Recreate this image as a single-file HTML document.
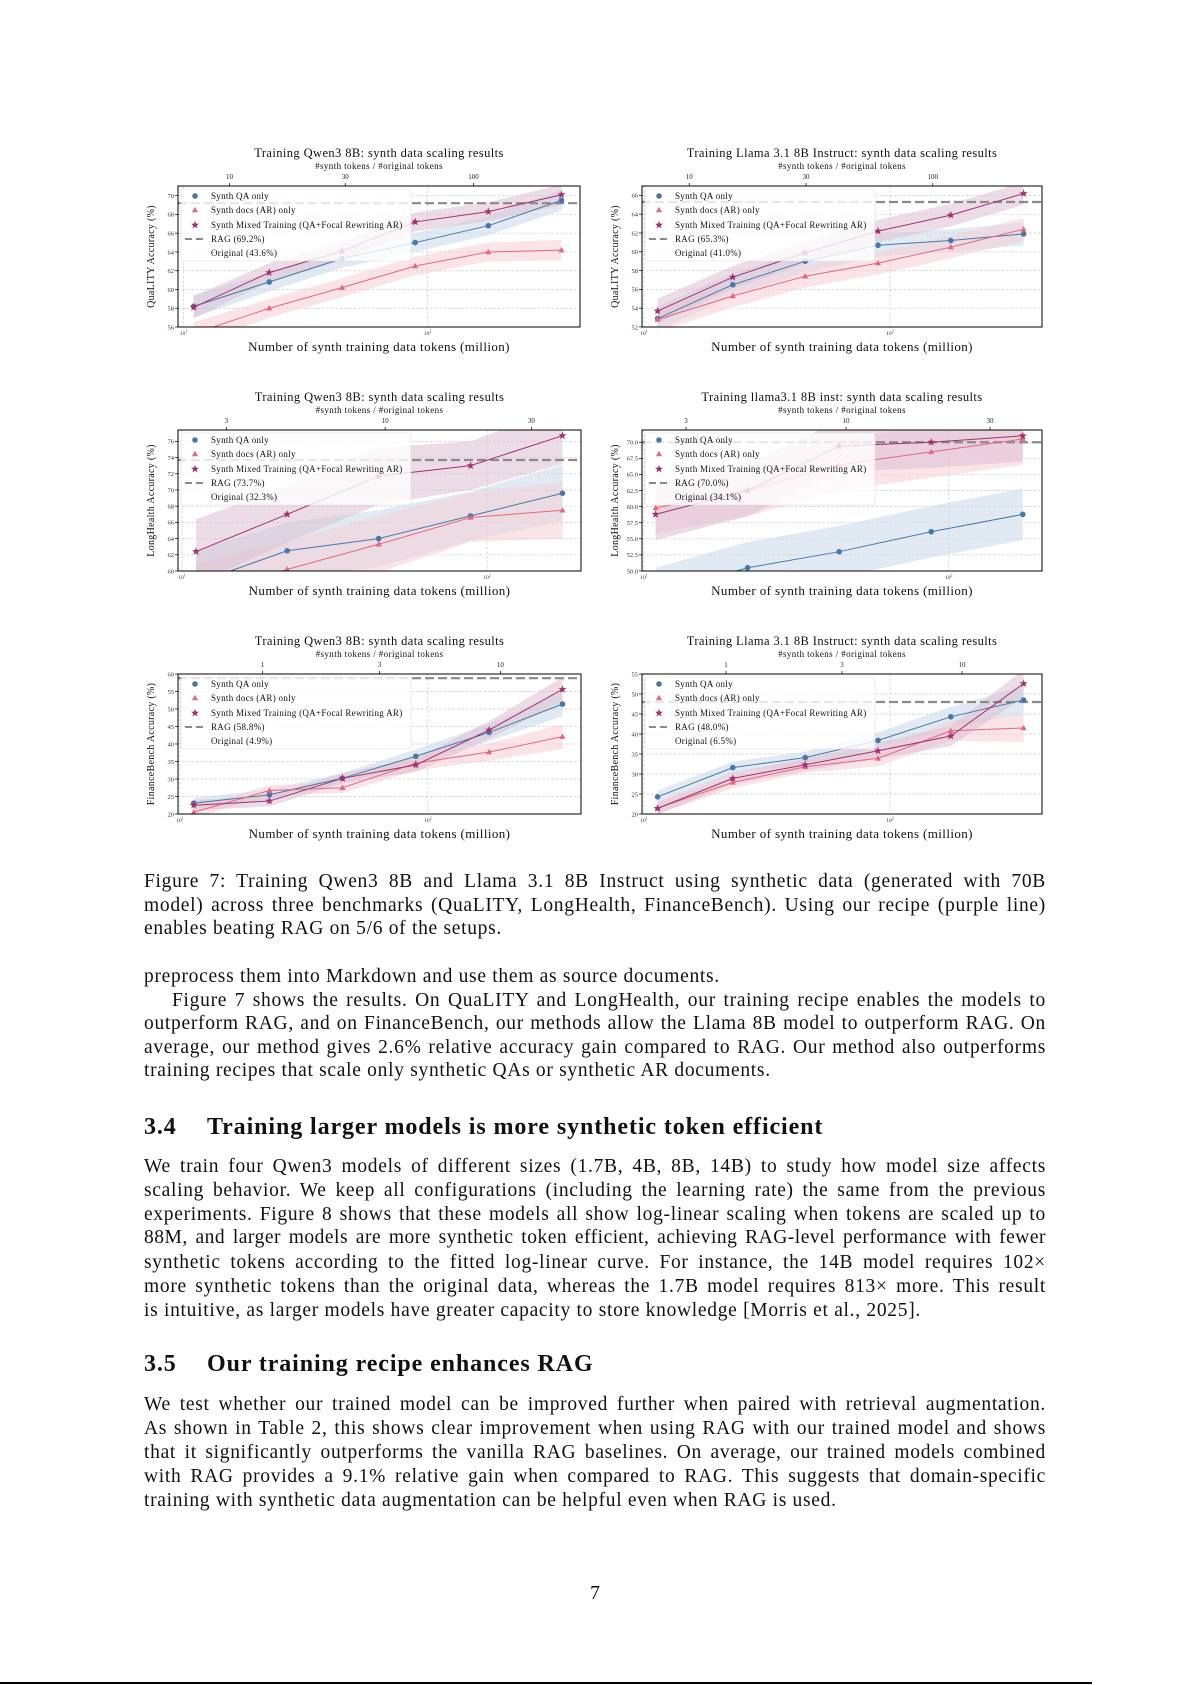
<!DOCTYPE html>
<html><head><meta charset="utf-8">
<style>
html,body{margin:0;padding:0;background:#fff;}
body{width:1192px;height:1685px;position:relative;overflow:hidden;font-family:"Liberation Serif",serif;color:#111;}
.l{position:absolute;left:144px;width:902px;font-size:19.5px;letter-spacing:0.7px;line-height:18px;white-space:nowrap;text-align:justify;text-align-last:justify;}
.n{text-align:left;text-align-last:left;}
.h{position:absolute;left:144px;font-size:24px;letter-spacing:0.9px;font-weight:bold;line-height:22px;white-space:nowrap;}
svg{position:absolute;left:0;top:0;}
</style></head><body>
<svg id="s" width="1192" height="1685" xmlns="http://www.w3.org/2000/svg" font-family="Liberation Serif, serif"></svg>

<div class="l" style="top:873px">Figure 7: Training Qwen3 8B and Llama 3.1 8B Instruct using synthetic data (generated with 70B</div>
<div class="l" style="top:897px">model) across three benchmarks (QuaLITY, LongHealth, FinanceBench). Using our recipe (purple line)</div>
<div class="l n" style="top:920px">enables beating RAG on 5/6 of the setups.</div>

<div class="l n" style="top:968px">preprocess them into Markdown and use them as source documents.</div>
<div class="l" style="top:992px;left:172px;width:874px">Figure 7 shows the results. On QuaLITY and LongHealth, our training recipe enables the models to</div>
<div class="l" style="top:1015px">outperform RAG, and on FinanceBench, our methods allow the Llama 8B model to outperform RAG. On</div>
<div class="l" style="top:1039px">average, our method gives 2.6% relative accuracy gain compared to RAG. Our method also outperforms</div>
<div class="l n" style="top:1062px">training recipes that scale only synthetic QAs or synthetic AR documents.</div>

<div class="h" style="top:1116px">3.4</div><div class="h" style="top:1116px;left:207px">Training larger models is more synthetic token efficient</div>

<div class="l" style="top:1158px">We train four Qwen3 models of different sizes (1.7B, 4B, 8B, 14B) to study how model size affects</div>
<div class="l" style="top:1182px">scaling behavior. We keep all configurations (including the learning rate) the same from the previous</div>
<div class="l" style="top:1206px">experiments. Figure 8 shows that these models all show log-linear scaling when tokens are scaled up to</div>
<div class="l" style="top:1229px;letter-spacing:0.5px">88M, and larger models are more synthetic token efficient, achieving RAG-level performance with fewer</div>
<div class="l" style="top:1254px">synthetic tokens according to the fitted log-linear curve. For instance, the 14B model requires 102×</div>
<div class="l" style="top:1278px">more synthetic tokens than the original data, whereas the 1.7B model requires 813× more. This result</div>
<div class="l n" style="top:1302px">is intuitive, as larger models have greater capacity to store knowledge [Morris et al., 2025].</div>

<div class="h" style="top:1353px">3.5</div><div class="h" style="top:1353px;left:207px">Our training recipe enhances RAG</div>

<div class="l" style="top:1396px">We test whether our trained model can be improved further when paired with retrieval augmentation.</div>
<div class="l" style="top:1420px">As shown in Table 2, this shows clear improvement when using RAG with our trained model and shows</div>
<div class="l" style="top:1444px">that it significantly outperforms the vanilla RAG baselines. On average, our trained models combined</div>
<div class="l" style="top:1468px">with RAG provides a 9.1% relative gain when compared to RAG. This suggests that domain-specific</div>
<div class="l n" style="top:1492px">training with synthetic data augmentation can be helpful even when RAG is used.</div>

<div style="position:absolute;top:1585px;left:585px;width:20px;text-align:center;font-size:19.5px;line-height:18px">7</div>
<div style="position:absolute;top:1682px;left:0;width:1092px;height:2px;background:#000"></div>

<script>
var S=document.getElementById('s'),out='';
function T(x,y,s,sz,anc,extra){return '<text x="'+x+'" y="'+y+'" font-size="'+sz+'" text-anchor="'+(anc||'start')+'" '+(extra||'')+'>'+s+'</text>';}
var C6=[0.039,0.227,0.408,0.590,0.772,0.954],C5=[0.045,0.271,0.498,0.726,0.954];
var charts=[
{L:178,R:580,T:186,B:327,y0:56,y1:71.03,tk:[56,58,60,62,64,66,68,70],fmt:0,xs:C6,d10:0.014,d100:0.621,top:[[0.128,'10'],[0.416,'30'],[0.735,'100']],
 title:'Training Qwen3 8B: synth data scaling results',yl:'QuaLITY Accuracy (%)',rag:69.2,rl:'RAG (69.2%)',ol:'Original (43.6%)',
 qa:[58.2,60.8,63.3,65.0,66.8,69.5],ar:[55.3,58.0,60.2,62.5,64.0,64.2],mx:[58.1,61.8,64.1,67.2,68.3,70.1],w:[1.2,1,1,1,1,1.1]},
{L:642,R:1042,T:186,B:327,y0:52,y1:67.0,tk:[52,54,56,58,60,62,64,66],fmt:0,xs:C6,d10:0.005,d100:0.62,top:[[0.118,'10'],[0.41,'30'],[0.727,'100']],
 title:'Training Llama 3.1 8B Instruct: synth data scaling results',yl:'QuaLITY Accuracy (%)',rag:65.3,rl:'RAG (65.3%)',ol:'Original (41.0%)',
 qa:[52.9,56.5,59.0,60.7,61.2,61.9],ar:[52.8,55.3,57.4,58.8,60.5,62.4],mx:[53.7,57.3,59.9,62.2,63.9,66.2],w:[1.3,1.2,1.2,1.2,1.2,1.2]},
{L:178,R:581,T:430,B:571,y0:60,y1:77.4,tk:[60,62,64,66,68,70,72,74,76],fmt:0,xs:C5,d10:0.01,d100:0.767,top:[[0.12,'3'],[0.514,'10'],[0.877,'30']],
 title:'Training Qwen3 8B: synth data scaling results',yl:'LongHealth Accuracy (%)',rag:73.7,rl:'RAG (73.7%)',ol:'Original (32.3%)',
 qa:[58.5,62.5,64.0,66.8,69.6],ar:[57.0,60.2,63.3,66.6,67.5],mx:[62.4,67.0,71.7,73.0,76.7],w:[4,3.5,3.5,3,3.5]},
{L:642,R:1042,T:430,B:571,y0:50,y1:71.9,tk:[50,52.5,55,57.5,60,62.5,65,67.5,70],fmt:1,xs:[0.034,0.264,0.493,0.723,0.952],d10:0.005,d100:0.767,top:[[0.11,'3'],[0.51,'10'],[0.87,'30']],
 title:'Training llama3.1 8B inst: synth data scaling results',yl:'LongHealth Accuracy (%)',rag:70.0,rl:'RAG (70.0%)',ol:'Original (34.1%)',
 qa:[46.5,50.5,53.0,56.1,58.8],ar:[59.8,62.5,66.5,68.5,70.5],mx:[58.8,62.5,69.4,70.0,71.0],w:[4,4,4,4,4]},
{L:178,R:581,T:674,B:814,y0:20,y1:60,tk:[20,25,30,35,40,45,50,55,60],fmt:0,xs:C6,d10:0.005,d100:0.62,top:[[0.21,'1'],[0.5,'3'],[0.8,'10']],
 title:'Training Qwen3 8B: synth data scaling results',yl:'FinanceBench Accuracy (%)',rag:58.8,rl:'RAG (58.8%)',ol:'Original (4.9%)',
 qa:[23.1,25.5,30.2,36.5,43.3,51.4],ar:[20.5,26.7,27.5,34.5,37.7,42.1],mx:[22.5,23.7,30.2,34.0,44.0,55.6],w:[1.5,1.5,1.5,2,2.5,3.5]},
{L:642,R:1042,T:674,B:814,y0:20,y1:55,tk:[20,25,30,35,40,45,50,55],fmt:0,xs:C6,d10:0.005,d100:0.62,top:[[0.21,'1'],[0.5,'3'],[0.8,'10']],
 title:'Training Llama 3.1 8B Instruct: synth data scaling results',yl:'FinanceBench Accuracy (%)',rag:48.0,rl:'RAG (48.0%)',ol:'Original (6.5%)',
 qa:[24.3,31.6,34.1,38.4,44.3,48.5],ar:[21.5,27.9,31.8,33.9,40.8,41.5],mx:[21.4,28.9,32.3,35.8,39.5,52.6],w:[1.5,1.5,1.5,2,2.5,3.5]}
];
var CQ='#4878a8',CA='#e5677f',CM='#a3306f';
function star(x,y,r){var p=[];for(var i=0;i<10;i++){var a=-Math.PI/2+i*Math.PI/5,rr=i%2?r*0.42:r;p.push((x+rr*Math.cos(a)).toFixed(1)+','+(y+rr*Math.sin(a)).toFixed(1));}return p.join(' ');}
function tri(x,y,r){return (x)+','+(y-r)+' '+(x-r*0.95)+','+(y+r*0.7)+' '+(x+r*0.95)+','+(y+r*0.7);}
var cid=0;
charts.forEach(function(c){
 cid++;var W=c.R-c.L,H=c.B-c.T;
 function X(f){return c.L+f*W;} function Y(v){return c.B-(v-c.y0)/(c.y1-c.y0)*H;}
 var o='<clipPath id="cp'+cid+'"><rect x="'+c.L+'" y="'+c.T+'" width="'+W+'" height="'+H+'"/></clipPath>';
 c.tk.forEach(function(v){var y=Y(v);o+='<line x1="'+c.L+'" x2="'+c.R+'" y1="'+y+'" y2="'+y+'" stroke="#c8c8c8" stroke-width="0.7" stroke-dasharray="2.5,2"/>';
  o+=T(c.L-4,y+2.3,c.fmt?v.toFixed(1):v,6.5,'end','fill="#333"');o+='<line x1="'+(c.L-3)+'" x2="'+c.L+'" y1="'+y+'" y2="'+y+'" stroke="#000" stroke-width="0.7"/>';});
 [c.d10,c.d100].forEach(function(f){o+='<line x1="'+X(f)+'" x2="'+X(f)+'" y1="'+c.T+'" y2="'+c.B+'" stroke="#c8c8c8" stroke-width="0.7" stroke-dasharray="2.5,2"/>';});
 o+=T(X(c.d10),c.B+8,'10<tspan font-size="4" dy="-2.5">1</tspan>',5.5,'middle','fill="#333"');
 o+=T(X(c.d100),c.B+8,'10<tspan font-size="4" dy="-2.5">2</tspan>',5.5,'middle','fill="#333"');
 c.top.forEach(function(t){o+='<line x1="'+X(t[0])+'" x2="'+X(t[0])+'" y1="'+(c.T-3)+'" y2="'+c.T+'" stroke="#000" stroke-width="0.7"/>'+T(X(t[0]),c.T-7,t[1],7,'middle','fill="#222"');});
 o+='<g clip-path="url(#cp'+cid+')">';
 var S3=[[c.qa,CQ,'#c9d8ea'],[c.ar,CA,'#f6cdd6'],[c.mx,CM,'#dcc0d2']];
 S3.forEach(function(s){var up=[],dn=[];s[0].forEach(function(v,i){up.push(X(c.xs[i])+','+Y(v+c.w[i]));dn.unshift(X(c.xs[i])+','+Y(v-c.w[i]));});
  o+='<polygon points="'+up.concat(dn).join(' ')+'" fill="'+s[2]+'" fill-opacity="0.55"/>';});
 o+='<line x1="'+c.L+'" x2="'+c.R+'" y1="'+Y(c.rag)+'" y2="'+Y(c.rag)+'" stroke="#8a8a8a" stroke-width="2.2" stroke-dasharray="9,4"/>';
 S3.forEach(function(s,k){var pts=s[0].map(function(v,i){return X(c.xs[i])+','+Y(v);});
  o+='<polyline points="'+pts.join(' ')+'" fill="none" stroke="'+s[1]+'" stroke-width="1"/>';
  s[0].forEach(function(v,i){var x=X(c.xs[i]),y=Y(v);
   if(k==0)o+='<circle cx="'+x+'" cy="'+y+'" r="2.8" fill="'+s[1]+'"/>';
   else if(k==1)o+='<polygon points="'+tri(x,y,3.2)+'" fill="'+s[1]+'"/>';
   else o+='<polygon points="'+star(x,y,4.2)+'" fill="'+s[1]+'"/>';});});
 o+='</g>';
 var lx=c.L+3,ly=c.T+3;
 o+='<rect x="'+lx+'" y="'+ly+'" width="230" height="72" rx="2" fill="#fff" fill-opacity="0.8" stroke="#ddd" stroke-width="0.6"/>';
 var ry=[ly+7,ly+21,ly+36,ly+50,ly+64];
 o+='<circle cx="'+(lx+14)+'" cy="'+ry[0]+'" r="2.8" fill="'+CQ+'"/>';
 o+='<polygon points="'+tri(lx+14,ry[1],3.2)+'" fill="'+CA+'"/>';
 o+='<polygon points="'+star(lx+14,ry[2],4.2)+'" fill="'+CM+'"/>';
 o+='<line x1="'+(lx+4)+'" x2="'+(lx+24)+'" y1="'+ry[3]+'" y2="'+ry[3]+'" stroke="#8a8a8a" stroke-width="2" stroke-dasharray="7,4"/>';
 var lab=['Synth QA only','Synth docs (AR) only','Synth Mixed Training (QA+Focal Rewriting AR)',c.rl,c.ol];
 lab.forEach(function(t,i){o+=T(lx+30,ry[i]+3,t,9,'start','fill="#111" letter-spacing="0.3"');});
 o+='<rect x="'+c.L+'" y="'+c.T+'" width="'+W+'" height="'+H+'" fill="none" stroke="#000" stroke-width="1"/>';
 var cx=(c.L+c.R)/2;
 o+=T(cx,c.T-29,c.title,12.5,'middle','fill="#111" letter-spacing="0.4"');
 o+=T(cx,c.T-17,'#synth tokens / #original tokens',9,'middle','fill="#111" letter-spacing="0.4"');
 o+=T(cx,c.B+24,'Number of synth training data tokens (million)',13,'middle','fill="#111" letter-spacing="0.4"');
 o+=T(0,0,c.yl,10,'middle','fill="#111" letter-spacing="0.3" transform="translate('+(c.L-24)+','+((c.T+c.B)/2)+') rotate(-90)"');
 out+=o;
});
S.innerHTML=out;
</script>
</body></html>
